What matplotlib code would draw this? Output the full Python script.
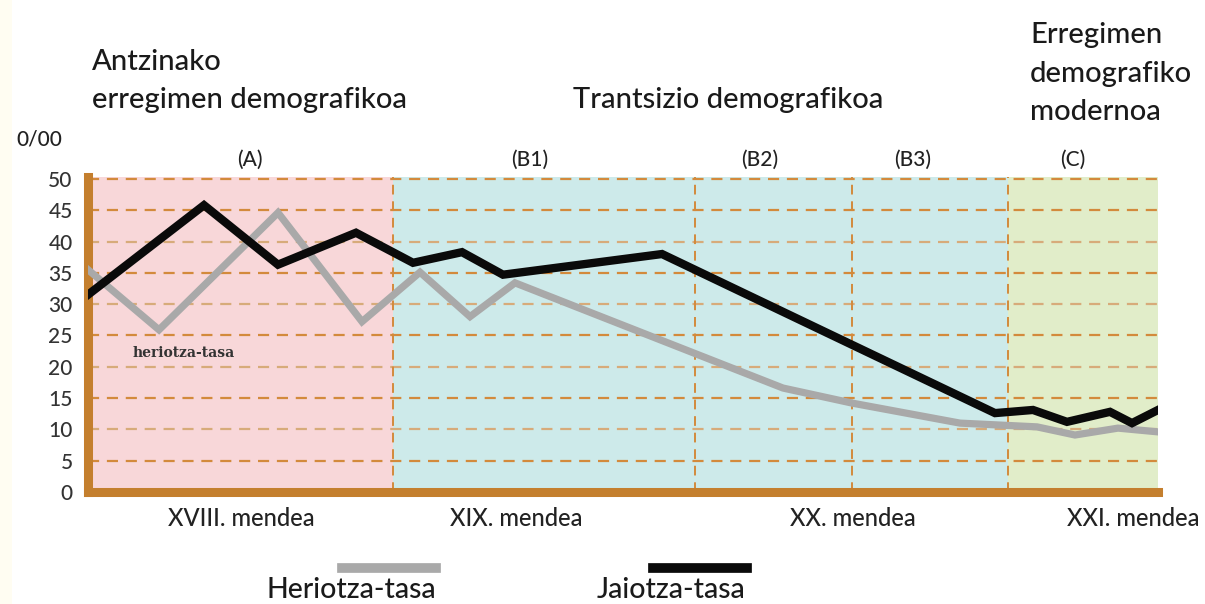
import matplotlib
matplotlib.use("Agg")
import matplotlib.pyplot as plt
from matplotlib.patches import Rectangle

# x positions: horizontal position along time axis (0 = start, 1070 = end)
birth_x = [0, 116, 190, 268, 325, 374, 415, 574, 907, 945, 979, 1022, 1044, 1070]
birth_y = [31.5, 45.8, 36.3, 41.4, 36.6, 38.3, 34.7, 38.0, 12.6, 13.1, 11.2, 12.8, 11.0, 13.1]
death_x = [0, 71, 190, 274, 332, 382, 427, 695, 764, 872, 949, 987, 1030, 1070]
death_y = [35.5, 25.9, 44.6, 27.2, 35.1, 28.0, 33.4, 16.6, 14.2, 11.0, 10.4, 9.1, 10.2, 9.6]

period_bounds = [0, 305, 920, 1070]
period_colors = ["#f8d7d9", "#cdeaea", "#e1edc9"]
divider_x = [305, 607, 764, 920]
period_labels = ["(A)", "(B1)", "(B2)", "(B3)", "(C)"]
period_label_x = [162, 442, 672, 825, 985]
century_labels = ["XVIII. mendea", "XIX. mendea", "XX. mendea", "XXI. mendea"]
century_x = [153, 428, 765, 1045]
yticks = [0, 5, 10, 15, 20, 25, 30, 35, 40, 45, 50]

plt.rcParams['font.family'] = ['Lato', 'DejaVu Sans']
plt.rcParams['font.weight'] = 'medium'

fig = plt.figure(figsize=(12.05, 6.04), dpi=100)
fig.patch.set_facecolor("white")
fig.add_artist(Rectangle((0, 0), 12/1205, 1, transform=fig.transFigure, color="#fffdf2", lw=0, zorder=-5))
ax = fig.add_axes([88/1205, 1-492/604, (1158-88)/1205, (492-177)/604])
ax.set_xlim(0, 1070)
ax.set_ylim(0, 50.3)
ax.set_facecolor("white")

for i in range(3):
    ax.axvspan(period_bounds[i], period_bounds[i+1], color=period_colors[i], zorder=0, lw=0)

for v in yticks[1:]:
    c = "#d7ab7a" if v in (10, 20, 30, 40) else "#d38a3c"
    ax.axhline(v, color=c, lw=1.6, ls=(0, (5, 3.5)), zorder=1)
for xv in divider_x:
    ax.axvline(xv, color="#d38a3c", lw=1.4, ls=(0, (5, 3.5)), zorder=1)

ax.plot(death_x, death_y, color="#a9a9a9", lw=5.2, zorder=3, solid_joinstyle="miter")
ax.plot(birth_x, birth_y, color="#0a0a0a", lw=6, zorder=4, solid_joinstyle="miter")

for s in ["top", "right"]:
    ax.spines[s].set_visible(False)
for s in ["left", "bottom"]:
    ax.spines[s].set_color("#c47f2e")
    ax.spines[s].set_linewidth(6.5)
ax.set_yticks(yticks)
ax.set_yticklabels([str(v) for v in yticks], fontsize=15, color="#333333")
ax.tick_params(axis="y", length=0, pad=11)
ax.set_xticks([])

ax.text(45, 22.2, "heriotza-tasa", family="DejaVu Serif", fontsize=10, fontweight="bold",
        color="#333333", va="center", ha="left")

for lab, xv in zip(period_labels, period_label_x):
    ax.text(xv, 53.0, lab, fontsize=15, ha="center", va="center", color="#222222", clip_on=False)
for lab, xv in zip(century_labels, century_x):
    ax.text(xv, -4.2, lab, fontsize=17, ha="center", va="center", color="#222222", clip_on=False)

ft = dict(fontsize=21, color="#1a1a1a", ha="left", va="center")
fig.text(92/1205, 1-62/604, "Antzinako", **ft)
fig.text(92/1205, 1-100/604, "erregimen demografikoa", **ft)
fig.text(573/1205, 1-100/604, "Trantsizio demografikoa", **ft)
fig.text(1030/1205, 1-35/604, "Erregimen", **ft)
fig.text(1030/1205, 1-74/604, "demografiko", **ft)
fig.text(1030/1205, 1-112/604, "modernoa", **ft)
fig.text(16/1205, 1-140/604, "0/00", fontsize=15, color="#222222", ha="left", va="center")

# legend
fig.add_artist(plt.Line2D([342/1205, 436/1205], [1-568/604, 1-568/604], color="#a9a9a9", lw=7, transform=fig.transFigure))
fig.add_artist(plt.Line2D([653/1205, 747/1205], [1-568/604, 1-568/604], color="#0a0a0a", lw=7, transform=fig.transFigure))
fig.text(351/1205, 1-590/604, "Heriotza-tasa", fontsize=20.5, ha="center", va="center", color="#1a1a1a")
fig.text(671/1205, 1-590/604, "Jaiotza-tasa", fontsize=20.5, ha="center", va="center", color="#1a1a1a")

fig.savefig("out.png", dpi=100)
